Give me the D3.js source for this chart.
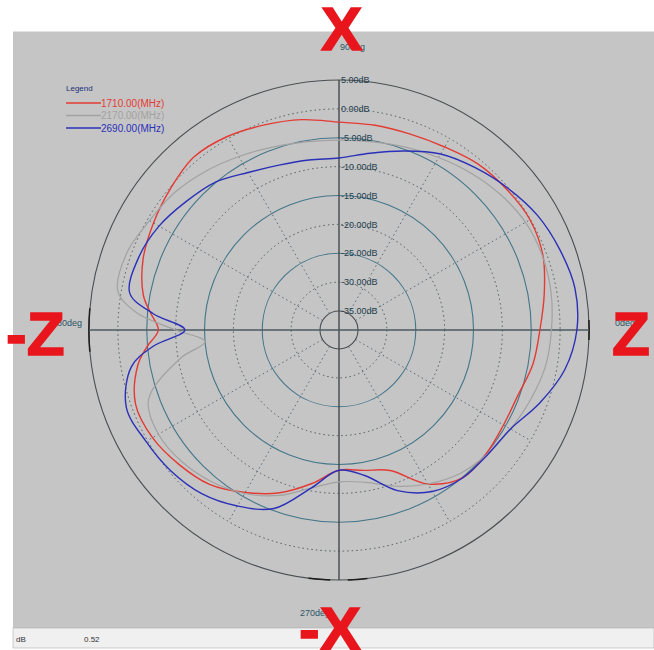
<!DOCTYPE html>
<html>
<head>
<meta charset="utf-8">
<script src="https://cdn.jsdelivr.net/npm/d3@7"></script>
<style>
  body { margin: 0; background: #fff; }
  svg { display: block; font-family: "Liberation Sans", Arial, sans-serif; }
</style>
</head>
<body>
<div id="chart-area"></div>
<script>
// angle in degrees, 0 = right (Z), 90 = top (X), counter clockwise
const angles = [0, 10, 20, 30, 40, 50, 60, 70, 80, 90, 100, 110, 120, 130, 140, 150, 160, 170,
  175, 180, 185, 190, 200, 210, 220, 230, 240, 250, 260, 270, 280, 290, 300, 310, 320, 330, 340, 350];

// gain in dB
const gain1710 = [-3.5, -2.2, -0.7, -0.1, -0.4, -0.8, -1.7, -2.2, -2.3, -2.3, -1.3, -0.5, 0.4, 0.8, -0.2, -1.2, -2.2, -3.9,
  -5.6, -7.0, -4.9, -2.9, -0.8, -1.0, -2.1, -3.4, -5.8, -8.3, -11.3, -14.0, -13.6, -12.4, -7.5, -4.9, -5.0, -5.4, -5.3, -4.2];
const gain2170 = [-1.5, -1.0, -0.8, -1.0, -1.8, -2.8, -3.8, -4.6, -5.2, -5.4, -5.2, -4.6, -3.6, -2.4, -1.2, -0.4, 0.8, 0.6,
  -3.0, -10.0, -15.0, -10.5, -3.2, -2.2, -2.8, -4.0, -5.6, -7.8, -10.5, -12.0, -11.5, -9.5, -7.5, -5.8, -4.8, -4.0, -3.0, -2.0];
const gain2690 = [2.9, 3.2, 2.4, 1.4, -0.1, -1.6, -3.1, -5.3, -7.2, -8.5, -8.4, -7.9, -6.8, -4.9, -3.7, -2.3, -1.4, -1.5,
  -6.0, -11.6, -6.0, -1.8, 0.9, 0.3, -0.3, -1.3, -3.1, -5.4, -10.5, -14.0, -12.7, -8.7, -6.0, -4.9, -4.7, -4.0, -1.3, 1.4];

const seriesNames = ["1710.00(MHz)", "2170.00(MHz)", "2690.00(MHz)"];
const ringLevels = [5, 0, -5, -10, -15, -20, -25, -30, -35];
const spokeAngles = [30, 60, 120, 150, 210, 240, 300, 330];
const angleTicks = [0, 90, 180, 270];
const axisNames = ["Z", "X", "-Z", "-X"];

const width = 654;
const height = 650;
const cx = 339;
const cy = 330;

const svg = d3
  .select("#chart-area")
  .append("svg")
  .attr("width", width)
  .attr("height", height);

svg.append("rect").attr("width", width).attr("height", height).attr("fill", "#fff");

// grey plot panel + status bar
svg.append("rect")
  .attr("x", 13).attr("y", 31)
  .attr("width", width - 13).attr("height", 597)
  .attr("fill", "#c5c5c5");
svg.append("line")
  .attr("x1", 13).attr("x2", width).attr("y1", 31.5).attr("y2", 31.5)
  .attr("stroke", "#e2e2e2");
svg.append("rect")
  .attr("x", 13).attr("y", 628)
  .attr("width", width - 13).attr("height", 20)
  .attr("fill", "#f0f0f0")
  .attr("stroke", "#b0b0b0")
  .attr("stroke-width", 0.6);
svg.append("text").attr("x", 16).attr("y", 642).attr("font-size", 8).attr("fill", "#333").text("dB");
svg.append("text").attr("x", 84).attr("y", 642).attr("font-size", 8).attr("fill", "#333").text("0.52");

const rScale = d3.scaleLinear().domain([-35, 5]).range([19, 250]);
const color = d3.scaleOrdinal().domain(seriesNames).range(["#e43a34", "#a2a2a2", "#2a30b8"]);

const g = svg.append("g").attr("transform", "translate(" + cx + "," + cy + ")");

// spokes
const toXY = (a, r) => [r * Math.cos((a * Math.PI) / 180), -r * Math.sin((a * Math.PI) / 180)];
g.selectAll("line.spoke")
  .data(spokeAngles)
  .join("line")
  .attr("class", "spoke")
  .attr("x1", (d) => toXY(d, rScale(-35))[0])
  .attr("y1", (d) => toXY(d, rScale(-35))[1])
  .attr("x2", (d) => toXY(d, rScale(0))[0])
  .attr("y2", (d) => toXY(d, rScale(0))[1])
  .attr("stroke", "#5a6a74")
  .attr("stroke-width", 1)
  .attr("stroke-dasharray", "1.5,3");

// rings
g.selectAll("circle.ring")
  .data(ringLevels)
  .join("circle")
  .attr("class", "ring")
  .attr("r", (d) => rScale(d))
  .attr("fill", "none")
  .attr("stroke", (d) => (d === 5 || d === -35 ? "#4a4f52" : d % 10 === 0 ? "#4d5a62" : "#44768a"))
  .attr("stroke-width", (d) => (d % 10 === 0 && d !== 5 ? 1 : 1.1))
  .attr("stroke-dasharray", (d) => (d % 10 === 0 ? "1.5,3" : null));

// darker marks on the outer ring at the axes
const tickArc = d3.arc().innerRadius(rScale(5) - 0.6).outerRadius(rScale(5) + 0.9);
const tickMarks = [[-2.3, 2.3], [175, 185], [263, 268], [272, 276.5]];
g.selectAll("path.tick")
  .data(tickMarks)
  .join("path")
  .attr("class", "tick")
  .attr("d", (d) => tickArc({ startAngle: ((90 - d[1]) * Math.PI) / 180, endAngle: ((90 - d[0]) * Math.PI) / 180 }))
  .attr("fill", "#1c1c1c");

// axes
g.append("line")
  .attr("x1", 0).attr("x2", 0)
  .attr("y1", -rScale(5)).attr("y2", rScale(5))
  .attr("stroke", "#3a3f42").attr("stroke-width", 1.3);
g.append("line")
  .attr("x1", -rScale(5)).attr("x2", rScale(5))
  .attr("y1", 0).attr("y2", 0)
  .attr("stroke", "#4a5a60").attr("stroke-width", 1.3);

// curves
const series = [gain1710, gain2170, gain2690].map((vals, i) => ({
  name: seriesNames[i],
  points: angles.map((a, j) => ({ angle: a, gain: vals[j] })),
}));

const radial = d3
  .lineRadial()
  .angle((d) => ((90 - d.angle) * Math.PI) / 180)
  .radius((d) => rScale(d.gain))
  .curve(d3.curveCatmullRomClosed.alpha(0.5));

g.selectAll("path.curve")
  .data(series)
  .join("path")
  .attr("class", "curve")
  .attr("d", (d) => radial(d.points))
  .attr("fill", "none")
  .attr("stroke", (d) => color(d.name))
  .attr("stroke-width", (d, i) => (i === 1 ? 1.2 : 1.4));

// ring labels
g.selectAll("text.ringlabel")
  .data(ringLevels)
  .join("text")
  .attr("class", "ringlabel")
  .attr("x", 2)
  .attr("y", (d) => -rScale(d))
  .attr("dy", "0.35em")
  .attr("font-size", 9)
  .attr("fill", "#23404f")
  .text((d) => d.toFixed(2) + "dB");

// angle labels
const angleLabelPos = { 0: [276, -4], 90: [1, -280], 180: [-287, -4], 270: [-39, 286] };
g.selectAll("text.anglelabel")
  .data(angleTicks)
  .join("text")
  .attr("class", "anglelabel")
  .attr("x", (d) => angleLabelPos[d][0])
  .attr("y", (d) => angleLabelPos[d][1])
  .attr("font-size", 9)
  .attr("fill", "#2e5566")
  .text((d) => d + "deg");

// legend
const legend = svg.append("g").attr("transform", "translate(66,91)");
legend.append("text").attr("x", 0).attr("y", 0).attr("font-size", 8).attr("fill", "#22307a").text("Legend");
const item = legend
  .selectAll("g.item")
  .data(seriesNames)
  .join("g")
  .attr("class", "item")
  .attr("transform", (d, i) => "translate(0," + (12 + i * 12.5) + ")");
item.append("line")
  .attr("x1", 0).attr("x2", 35)
  .attr("stroke", (d) => color(d)).attr("stroke-width", 1.3);
item.append("text")
  .attr("x", 35).attr("dy", "0.35em")
  .attr("font-size", 10)
  .attr("fill", (d) => color(d))
  .text((d) => d);

// big red axis names
const axisNamePos = { "Z": [612, 355], "X": [321, 50], "-Z": [6, 355], "-X": [299, 650] };
svg.selectAll("text.axisname")
  .data(axisNames)
  .join("text")
  .attr("class", "axisname")
  .attr("x", (d) => axisNamePos[d][0])
  .attr("y", (d) => axisNamePos[d][1])
  .attr("font-size", 62)
  .attr("font-weight", "bold")
  .attr("fill", "#e8161c")
  .attr("stroke", "#e8161c")
  .attr("stroke-width", 1.5)
  .text((d) => d);
</script>
</body>
</html>
